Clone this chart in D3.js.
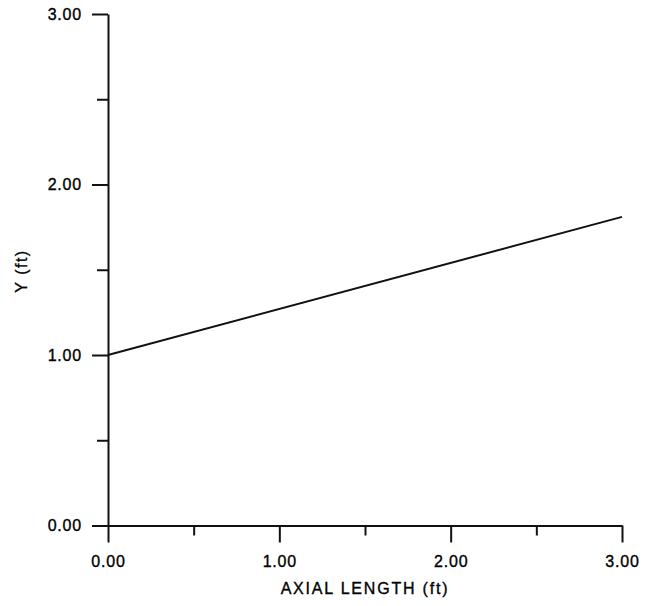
<!DOCTYPE html>
<html>
<head>
<meta charset="utf-8">
<script src="https://cdn.jsdelivr.net/npm/d3@7/dist/d3.min.js"></script>
<style>
  html, body { margin: 0; padding: 0; background: #fff; }
  svg { display: block; }
  text { font-family: "Liberation Sans", Arial, Helvetica, sans-serif; fill: #000; stroke: #000; stroke-width: 0.35px; }
</style>
</head>
<body>
<svg id="chart" width="649" height="606"></svg>
<script>
// Centerline height along the axial length
const axialLength = [0.0, 3.0];
const yValues = [1.0, 1.81];

// Axis ticks
const xMajorTicks = [0, 1, 2, 3];
const yMajorTicks = [0, 1, 2, 3];
const xMinorTicks = [0.5, 1.5, 2.5];
const yMinorTicks = [0.5, 1.5, 2.5];
const tickLabels = ["0.00", "1.00", "2.00", "3.00"];

const xTitle = "AXIAL LENGTH (ft)";
const yTitle = "Y (ft)";

const svg = d3.select("#chart");
const margin = { left: 108, right: 27, top: 14, bottom: 80.5 };
const W = 649, H = 606;

const x = d3.scaleLinear().domain([0, 3]).range([margin.left, W - margin.right]);
const y = d3.scaleLinear().domain([0, 3]).range([H - margin.bottom, margin.top]);

const stroke = "#111";

// X axis: major ticks with labels, then minor ticks
const xAxis = d3.axisBottom(x)
  .tickValues(xMajorTicks)
  .tickSize(17)
  .tickSizeOuter(0)
  .tickPadding(13)
  .tickFormat((d, i) => tickLabels[i]);

svg.append("g")
  .attr("transform", `translate(0,${y(0)})`)
  .call(xAxis);

svg.append("g")
  .attr("transform", `translate(0,${y(0)})`)
  .call(d3.axisBottom(x).tickValues(xMinorTicks).tickSize(10).tickSizeOuter(0).tickFormat(""))
  .select(".domain").remove();

// Y axis
const yAxis = d3.axisLeft(y)
  .tickValues(yMajorTicks)
  .tickSize(16)
  .tickSizeOuter(0)
  .tickPadding(10)
  .tickFormat((d, i) => tickLabels[i]);

svg.append("g")
  .attr("transform", `translate(${x(0)},0)`)
  .call(yAxis);

svg.append("g")
  .attr("transform", `translate(${x(0)},0)`)
  .call(d3.axisLeft(y).tickValues(yMinorTicks).tickSize(11).tickSizeOuter(0).tickFormat(""))
  .select(".domain").remove();

svg.selectAll(".domain, .tick line")
  .attr("stroke", stroke)
  .attr("stroke-width", 2);

svg.selectAll(".tick text")
  .attr("font-size", 16)
  .attr("letter-spacing", 0.8)
  .attr("fill", "#000")
  .attr("font-family", '"Liberation Sans", Arial, sans-serif');

// Axis titles
svg.append("text")
  .attr("x", (x(0) + x(3)) / 2)
  .attr("y", 594)
  .attr("text-anchor", "middle")
  .attr("font-size", 16)
  .attr("letter-spacing", 1.8)
  .text(xTitle);

svg.append("text")
  .attr("transform", `translate(27,${271}) rotate(-90)`)
  .attr("text-anchor", "middle")
  .attr("font-size", 16)
  .attr("letter-spacing", 1.5)
  .text(yTitle);

// Data line
const line = d3.line()
  .x((d, i) => x(axialLength[i]))
  .y(d => y(d));

svg.append("path")
  .datum(yValues)
  .attr("d", line)
  .attr("fill", "none")
  .attr("stroke", stroke)
  .attr("stroke-width", 2);
</script>
</body>
</html>
